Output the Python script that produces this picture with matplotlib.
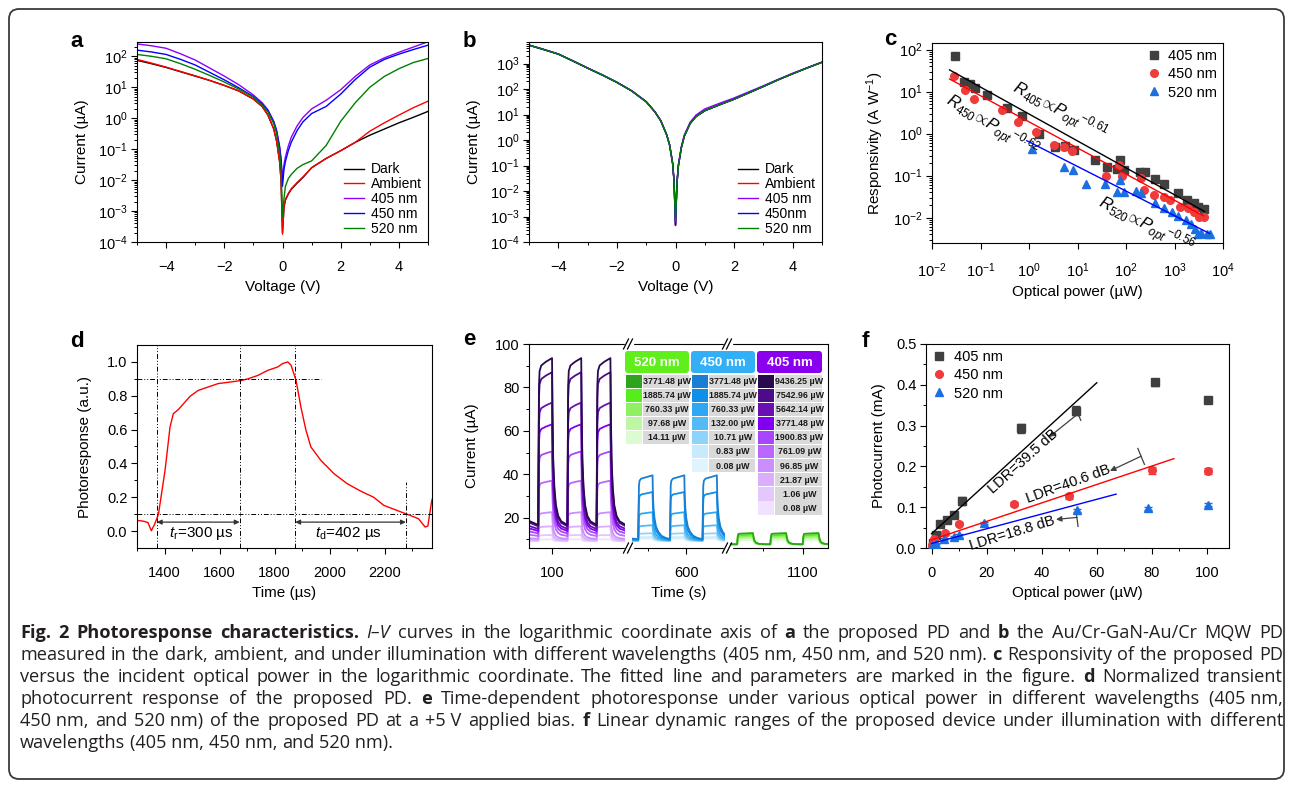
import numpy as np
import matplotlib
matplotlib.use('Agg')
import matplotlib.pyplot as plt
from matplotlib.ticker import MultipleLocator, LogLocator, FormatStrFormatter, NullFormatter, FixedLocator
from matplotlib.patches import FancyBboxPatch, Rectangle
from matplotlib.lines import Line2D

plt.rcParams['font.family'] = ['Liberation Sans', 'DejaVu Sans']
plt.rcParams['mathtext.fontset'] = 'custom'
plt.rcParams['mathtext.rm'] = 'Liberation Sans'
plt.rcParams['mathtext.it'] = 'Liberation Sans:italic'
plt.rcParams['mathtext.bf'] = 'Liberation Sans:bold'
plt.rcParams['axes.linewidth'] = 0.8
plt.rcParams['xtick.major.size'] = 4.5
plt.rcParams['xtick.minor.size'] = 2.5
plt.rcParams['ytick.major.size'] = 4
plt.rcParams['ytick.minor.size'] = 2.5
plt.rcParams['xtick.major.width'] = 0.8
plt.rcParams['ytick.major.width'] = 0.8
plt.rcParams['xtick.minor.width'] = 0.7
plt.rcParams['ytick.minor.width'] = 0.7
plt.rcParams['xtick.major.pad'] = 8.5
plt.rcParams['ytick.major.pad'] = 3
plt.rcParams['xtick.labelsize'] = 10.5
plt.rcParams['ytick.labelsize'] = 10.5
plt.rcParams['axes.labelsize'] = 11

# ---------------- data ----------------
# a, b: I-V curves, log10 of current in uA
volt = [-5, -4.5, -4, -3.5, -3, -2.5, -2, -1.5, -1, -0.7, -0.5, -0.3, -0.2, -0.1, -0.05, 0,
        0.05, 0.1, 0.2, 0.3, 0.5, 0.7, 1, 1.5, 2, 2.5, 3, 3.5, 4, 4.5, 5]
a_dark = [1.87, 1.76, 1.64, 1.5, 1.36, 1.22, 1.06, 0.88, 0.62, 0.38, 0.1, -0.35, -0.75, -1.4, -2.0, -3.7,
          -2.9, -2.65, -2.45, -2.3, -2.1, -1.92, -1.6, -1.3, -1.05, -0.78, -0.55, -0.35, -0.15, 0.03, 0.22]
a_amb = [1.9, 1.78, 1.65, 1.51, 1.37, 1.22, 1.06, 0.88, 0.62, 0.38, 0.1, -0.35, -0.75, -1.4, -2.0, -3.75,
         -2.85, -2.62, -2.43, -2.28, -2.08, -1.9, -1.6, -1.3, -1.05, -0.78, -0.42, -0.15, 0.1, 0.34, 0.55]
a_405 = [2.4, 2.34, 2.26, 2.08, 1.88, 1.62, 1.36, 1.08, 0.75, 0.5, 0.27, -0.1, -0.4, -0.9, -1.3, -2.0,
         -1.5, -1.25, -0.9, -0.62, -0.25, 0.02, 0.3, 0.58, 0.92, 1.35, 1.72, 1.95, 2.13, 2.3, 2.47]
a_450 = [2.2, 2.14, 2.06, 1.9, 1.72, 1.48, 1.24, 0.98, 0.7, 0.46, 0.24, -0.13, -0.43, -0.95, -1.35, -2.2,
         -1.65, -1.4, -1.05, -0.78, -0.4, -0.12, 0.15, 0.38, 0.78, 1.25, 1.65, 1.9, 2.07, 2.22, 2.36]
a_520 = [2.06, 2.0, 1.92, 1.76, 1.58, 1.38, 1.17, 0.94, 0.68, 0.43, 0.2, -0.18, -0.5, -1.1, -1.6, -3.2,
         -2.6, -2.2, -1.95, -1.82, -1.62, -1.5, -1.38, -0.88, -0.1, 0.5, 1.0, 1.35, 1.6, 1.8, 1.93]

b_dark = [3.72, 3.55, 3.37, 3.1, 2.82, 2.55, 2.26, 1.93, 1.5, 1.1, 0.75, 0.2, -0.2, -0.9, -1.6, -3.35,
          -1.7, -1.0, -0.3, 0.15, 0.65, 0.92, 1.15, 1.38, 1.6, 1.85, 2.1, 2.36, 2.6, 2.83, 3.05]
b_amb = [3.72, 3.55, 3.37, 3.1, 2.82, 2.55, 2.26, 1.93, 1.5, 1.1, 0.75, 0.2, -0.2, -0.9, -1.6, -3.35,
         -1.7, -1.0, -0.3, 0.15, 0.65, 0.92, 1.15, 1.38, 1.6, 1.85, 2.1, 2.36, 2.6, 2.83, 3.05]
b_405 = [3.73, 3.56, 3.38, 3.11, 2.83, 2.56, 2.27, 1.94, 1.51, 1.11, 0.76, 0.21, -0.2, -0.9, -1.6, -3.3,
         -1.65, -0.95, -0.25, 0.2, 0.7, 0.98, 1.22, 1.44, 1.65, 1.89, 2.13, 2.38, 2.62, 2.84, 3.06]
b_450 = [3.72, 3.55, 3.37, 3.1, 2.82, 2.55, 2.26, 1.93, 1.5, 1.1, 0.75, 0.2, -0.2, -0.9, -1.6, -3.35,
         -1.7, -1.0, -0.3, 0.15, 0.65, 0.92, 1.15, 1.38, 1.6, 1.85, 2.1, 2.36, 2.6, 2.83, 3.05]
b_520 = [3.72, 3.55, 3.37, 3.1, 2.82, 2.55, 2.26, 1.93, 1.5, 1.1, 0.75, 0.2, -0.2, -0.9, -1.6, -3.2,
         -1.7, -1.0, -0.3, 0.15, 0.65, 0.92, 1.15, 1.38, 1.6, 1.85, 2.1, 2.36, 2.6, 2.83, 3.05]

iv_labels_a = ['Dark', 'Ambient', '405 nm', '450 nm', '520 nm']
iv_labels_b = ['Dark', 'Ambient', '405 nm', '450nm', '520 nm']
iv_colors = ['black', '#ff0000', '#8b00ff', '#0000ff', '#008000']

# c: responsivity (A/W) vs optical power (uW)
c405_p = [0.030, 0.045, 0.06, 0.078, 0.136, 0.35, 0.72, 1.6, 3.5, 5.6, 8.3, 23.5, 40, 64, 75, 89,
          190, 250, 400, 600, 1200, 1800, 2500, 3000, 4000]
c405_r = [69, 17, 15.5, 12, 8.2, 4, 2.7, 1.0, 0.48, 0.5, 0.4, 0.24, 0.16, 0.145, 0.24, 0.14,
          0.12, 0.12, 0.085, 0.065, 0.039, 0.026, 0.022, 0.018, 0.016]
c450_p = [0.028, 0.049, 0.075, 0.28, 0.58, 1.4, 3.3, 5.2, 7.7, 39, 73, 82, 200, 230, 380, 600,
          800, 1300, 1900, 2500, 3200, 4000]
c450_r = [24, 10.7, 6.8, 3.7, 1.9, 1.1, 0.53, 0.48, 0.38, 0.1, 0.18, 0.098, 0.087, 0.045, 0.035, 0.031,
          0.026, 0.018, 0.017, 0.014, 0.0104, 0.0104]
c520_p = [1.15, 5.2, 8, 15, 37, 64, 75, 89, 157, 200, 400, 600, 900, 1200, 1700, 2200, 2700, 3100,
          3600, 4600, 5300]
c520_r = [0.44, 0.16, 0.136, 0.065, 0.063, 0.042, 0.078, 0.041, 0.044, 0.038, 0.023, 0.017, 0.014,
          0.0107, 0.0089, 0.0070, 0.0055, 0.0042, 0.0043, 0.0040, 0.0040]
c405_fit_p, c405_fit_r = [0.023, 4200], [33, 0.014]
c450_fit_p, c450_fit_r = [0.023, 4000], [20, 0.011]
c520_fit_p, c520_fit_r = [0.9, 5300], [0.68, 0.0042]

# d: normalized transient response
d_time = [1302, 1325, 1340, 1352, 1364, 1378, 1402, 1420, 1432, 1450, 1469, 1493, 1523, 1559, 1595,
          1643, 1679, 1703, 1739, 1775, 1811, 1829, 1848, 1860, 1878, 1896, 1914, 1932, 1968, 2016,
          2064, 2112, 2160, 2197, 2245, 2281, 2323, 2347, 2357, 2371, 2380]
d_resp = [0.063, 0.058, 0.05, 0.002, 0.04, 0.10, 0.36, 0.615, 0.694, 0.718, 0.753, 0.797, 0.832, 0.852,
          0.872, 0.882, 0.89, 0.90, 0.92, 0.95, 0.97, 0.99, 1.0, 0.98, 0.89, 0.73, 0.596, 0.497, 0.418,
          0.339, 0.28, 0.237, 0.20, 0.152, 0.122, 0.10, 0.073, 0.024, 0.03, 0.18, 0.22]
d_t10_rise, d_t90_rise, d_t90_fall, d_t10_fall = 1372, 1673, 1875, 2277

# e: time-dependent photoresponse, one pulse profile per wavelength (fraction of step height)
e405_rises = [82, 120, 158]
e405_pulse_t = [0, 0.5, 1.0, 1.8, 4, 10, 18, 18.6, 19.5, 21, 23, 26, 30, 34, 38]
e405_pulse_f = [0.09, 0.5, 0.85, 0.93, 0.96, 0.98, 1.0, 0.7, 0.45, 0.3, 0.2, 0.14, 0.11, 0.1, 0.09]
e405_levels = [93.5, 87, 73, 63, 50.5, 37, 22.5, 16, 12, 10]
e405_floor = 9.0
e450_rises = [538, 579, 621]
e450_pulse_t = [0, 0.5, 1.0, 1.8, 4, 10, 18.5, 19, 19.8, 21, 23, 26, 30, 35, 41]
e450_pulse_f = [0.03, 0.5, 0.85, 0.92, 0.95, 0.97, 1.0, 0.7, 0.5, 0.35, 0.22, 0.14, 0.08, 0.05, 0.03]
e450_levels = [39.5, 31.8, 22.5, 16.5, 12.8, 11.0, 10.2]
e450_floor = 9.2
e520_rises = [1017, 1059, 1100]
e520_pulse_t = [0, 0.8, 1.5, 5, 12, 20, 21, 22, 24, 28, 34, 41]
e520_pulse_f = [0.02, 0.7, 0.92, 0.95, 0.97, 1.0, 0.6, 0.35, 0.15, 0.06, 0.03, 0.02]
e520_levels = [12.9, 12.1, 11.3, 10.5, 9.6]
e520_floor = 7.6

t520_power = ['3771.48', '1885.74', '760.33', '97.68', '14.11']
t450_power = ['3771.48', '1885.74', '760.33', '132.00', '10.71', '0.83', '0.08']
t405_power = ['9436.25', '7542.96', '5642.14', '3771.48', '1900.83', '761.09', '96.85', '21.87', '1.06', '0.08']
c520_shades = ['#2ea31c', '#55ee1a', '#8ef062', '#bdf7a3', '#dcfbd3']
c450_shades = ['#1a7fd4', '#0f8fe8', '#2ea8f2', '#52baf6', '#8fd3fa', '#c7eafd', '#e0f4fe']
c405_shades = ['#2a0a4e', '#4d0b8a', '#6a0fb3', '#8200f2', '#a846ff', '#bb66ff', '#cc8dfd',
               '#dcacfd', '#e4c7fd', '#f0e2fe']

# f: linear dynamic range
f405_p = [0.5, 1.5, 3, 5.5, 8, 11, 32.5, 52.5, 81, 100.5]
f405_i = [0.012, 0.033, 0.058, 0.068, 0.08, 0.115, 0.293, 0.337, 0.406, 0.363]
f405_err = [0.003, 0.004, 0.005, 0.005, 0.006, 0.01, 0.01, 0.01, 0.009, 0.006]
f450_p = [0.2, 1, 4.8, 10, 30, 50, 80, 100.5]
f450_i = [0.008, 0.022, 0.036, 0.06, 0.107, 0.127, 0.19, 0.188]
f450_err = [0.003, 0.003, 0.004, 0.004, 0.005, 0.006, 0.008, 0.007]
f520_p = [0.3, 1.8, 4.5, 8, 10, 19, 53, 78.5, 100.5]
f520_i = [0.005, 0.011, 0.022, 0.027, 0.031, 0.061, 0.092, 0.097, 0.106]
f520_err = [0.002, 0.002, 0.003, 0.003, 0.003, 0.003, 0.004, 0.003, 0.004]
f405_fit_p, f405_fit_i = [0, 60], [0.035, 0.405]
f450_fit_p, f450_fit_i = [0, 88], [0.02, 0.219]
f520_fit_p, f520_fit_i = [0, 67], [0.011, 0.132]

W, H = 1292, 787
fig = plt.figure(figsize=(W / 100, H / 100), dpi=100)


def px_axes(l, t, r, b):
    return fig.add_axes([l / W, 1 - b / H, (r - l) / W, (b - t) / H])


def log_minor(ax):
    ax.yaxis.set_minor_locator(LogLocator(base=10, subs=np.arange(2, 10), numticks=100))
    ax.yaxis.set_minor_formatter(NullFormatter())
    ax.yaxis.set_major_locator(LogLocator(base=10, numticks=100))


# ---------------- a / b ----------------
for ax_box, curves, labels, ylim in [((137, 42, 428, 242), [a_dark, a_amb, a_405, a_450, a_520], iv_labels_a, (1e-4, 290)),
                                     ((529, 42, 822, 242), [b_dark, b_amb, b_405, b_450, b_520], iv_labels_b, (1e-4, 7000))]:
    ax = px_axes(*ax_box)
    for vals, lab, col in zip(curves, labels, iv_colors):
        ax.plot(volt, 10 ** np.array(vals), color=col, lw=1.0, label=lab)
    ax.set_yscale('log')
    ax.set_xlim(-5, 5)
    ax.set_ylim(*ylim)
    log_minor(ax)
    ax.xaxis.set_major_locator(MultipleLocator(2))
    ax.xaxis.set_minor_locator(MultipleLocator(1))
    ax.set_xlabel('Voltage (V)')
    ax.set_ylabel('Current (µA)', labelpad=6)
    ax.legend(loc='lower right', frameon=False, fontsize=10, handlelength=1.4, handletextpad=0.5,
              labelspacing=0.06, borderaxespad=0.05)

# ---------------- c ----------------
axc = px_axes(932, 43, 1223, 243)
axc.plot(c405_p, c405_r, 's', color='#404040', ms=5.5, label='405 nm', zorder=3)
axc.plot(c450_p, c450_r, 'o', color='#ee3b3b', ms=5.5, label='450 nm', zorder=3)
axc.plot(c520_p, c520_r, '^', color='#1c6fe0', ms=6, label='520 nm', zorder=3)
axc.plot(c405_fit_p, c405_fit_r, color='black', lw=1.0, zorder=4)
axc.plot(c450_fit_p, c450_fit_r, color='#ff0000', lw=1.0, zorder=4)
axc.plot(c520_fit_p, c520_fit_r, color='#0000ff', lw=1.0, zorder=4)
axc.set_xscale('log')
axc.set_yscale('log')
axc.set_xlim(1e-2, 1e4)
axc.set_ylim(2.5e-3, 144)
log_minor(axc)
axc.xaxis.set_major_locator(LogLocator(base=10, numticks=100))
axc.xaxis.set_minor_locator(FixedLocator([]))
axc.set_xlabel('Optical power (µW)')
axc.set_ylabel('Responsivity (A W$^{-1}$)', labelpad=5)
axc.legend(loc='upper right', frameon=False, fontsize=10.5, handlelength=1.0, handletextpad=0.5,
           labelspacing=0.3, borderaxespad=0.0)
axc.text(0.43, 9.8, r'$R_{405}\!\propto\!{P_{opt}}^{-0.61}$', rotation=-28, rotation_mode='anchor',
         ha='left', va='baseline', fontsize=12)
axc.text(0.0177, 5.2, r'$R_{450}\!\propto\!{P_{opt}}^{-0.62}$', rotation=-31, rotation_mode='anchor',
         ha='left', va='baseline', fontsize=12)
axc.text(24.9, 0.018, r'$R_{520}\!\propto\!{P_{opt}}^{-0.56}$', rotation=-27, rotation_mode='anchor',
         ha='left', va='baseline', fontsize=12)

# ---------------- d ----------------
axd = px_axes(137, 345, 432, 548)
axd.plot(d_time, d_resp, color='#ff0000', lw=1.0)
axd.set_xlim(1300, 2372)
axd.set_ylim(-0.1, 1.1)
axd.xaxis.set_major_locator(MultipleLocator(200))
axd.xaxis.set_minor_locator(MultipleLocator(100))
axd.yaxis.set_major_locator(FixedLocator([0, 0.2, 0.4, 0.6, 0.8, 1.0]))
axd.yaxis.set_minor_locator(FixedLocator([0.1, 0.3, 0.5, 0.7, 0.9]))
axd.yaxis.set_major_formatter(FormatStrFormatter('%.1f'))
dd = (0, (5, 2, 1, 2, 1, 2))
for tx in [d_t10_rise, d_t90_rise, d_t90_fall]:
    axd.axvline(tx, color='black', lw=0.7, ls=dd)
axd.plot([d_t10_fall, d_t10_fall], [-0.1, 0.29], color='black', lw=0.7, ls=dd)
axd.plot([1300, 1970], [0.9, 0.9], color='black', lw=0.7, ls=dd)
axd.axhline(0.1, color='black', lw=0.7, ls=dd)
for t0, t1 in [(d_t10_rise, d_t90_rise), (d_t90_fall, d_t10_fall)]:
    axd.annotate('', xy=(t0, 0.053), xytext=(t1, 0.053),
                 arrowprops=dict(arrowstyle='<|-|>', color='#333333', lw=0.9, mutation_scale=7,
                                 shrinkA=0, shrinkB=0))
axd.text(1532, -0.016, r'$t_{\mathrm{r}}$=300 µs', ha='center', va='center', fontsize=11)
axd.text(2070, -0.016, r'$t_{\mathrm{d}}$=402 µs', ha='center', va='center', fontsize=11)
axd.set_xlabel('Time (µs)')
axd.set_ylabel('Photoresponse (a.u.)', labelpad=11)


# ---------------- e ----------------
def pulse_train(rises, pulse_t, pulse_f, t_start, level, floor):
    t = [t_start]
    f = [pulse_f[0] * 1.25]
    for r in rises:
        t += [r + p for p in pulse_t]
        f += list(pulse_f)
    return np.array(t), floor + (level - floor) * np.array(f)


seg_boxes = [(529, 344, 625, 548), (632, 344, 725, 548), (730, 344, 828, 548)]
seg_lims = [(70, 195), (530, 650), (1008, 1132)]
seg_major = [100, 600, 1100]
seg_minor = [150, 550, 1050]
seg_data = [(e405_rises, e405_pulse_t, e405_pulse_f, e405_levels, e405_floor, c405_shades),
            (e450_rises, e450_pulse_t, e450_pulse_f, e450_levels, e450_floor, c450_shades),
            (e520_rises, e520_pulse_t, e520_pulse_f, e520_levels, e520_floor, c520_shades)]
segs = []
for k, box in enumerate(seg_boxes):
    ax = px_axes(*box)
    segs.append(ax)
    rises, pt, pf, levels, floor, shades = seg_data[k]
    for lvl, col in list(zip(levels, shades))[::-1]:
        tt, ii = pulse_train(rises, pt, pf, seg_lims[k][0], lvl, floor)
        ax.plot(tt, ii, color=col, lw=1.3)
    ax.set_xlim(*seg_lims[k])
    ax.set_ylim(6, 100)
    ax.set_xticks([seg_major[k]])
    ax.set_xticks([seg_minor[k]], minor=True)
    ax.yaxis.set_major_locator(MultipleLocator(20))
    ax.yaxis.set_minor_locator(MultipleLocator(10))
    if k > 0:
        ax.spines['left'].set_visible(False)
        ax.tick_params(axis='y', which='both', left=False, labelleft=False)
    if k < 2:
        ax.spines['right'].set_visible(False)
segs[0].set_ylabel('Current (µA)', labelpad=11)
segs[1].set_xlabel('Time (s)')

# ---------------- f ----------------
axf = px_axes(926, 344, 1229, 548)
axf.errorbar(f405_p, f405_i, yerr=f405_err, fmt='s', color='#404040', ms=5.5, capsize=3,
             elinewidth=1, capthick=1, zorder=3)
axf.errorbar(f450_p, f450_i, yerr=f450_err, fmt='o', color='#ee3b3b', ms=5.5, capsize=3,
             elinewidth=1, capthick=1, zorder=3)
axf.errorbar(f520_p, f520_i, yerr=f520_err, fmt='^', color='#1c6fe0', ms=6, capsize=3,
             elinewidth=1, capthick=1, zorder=3)
axf.plot(f405_fit_p, f405_fit_i, color='black', lw=1.0, zorder=4)
axf.plot(f450_fit_p, f450_fit_i, color='#ff0000', lw=1.0, zorder=4)
axf.plot(f520_fit_p, f520_fit_i, color='#0000ff', lw=1.0, zorder=4)
axf.set_xlim(-2, 108)
axf.set_ylim(0, 0.5)
axf.xaxis.set_major_locator(MultipleLocator(20))
axf.xaxis.set_minor_locator(MultipleLocator(10))
axf.yaxis.set_major_locator(MultipleLocator(0.1))
axf.yaxis.set_minor_locator(MultipleLocator(0.05))
axf.yaxis.set_major_formatter(FormatStrFormatter('%.1f'))
axf.set_xlabel('Optical power (µW)')
axf.set_ylabel('Photocurrent (mA)', labelpad=7)
f_handles = [Line2D([], [], ls='none', marker='s', color='#404040', ms=5.5),
             Line2D([], [], ls='none', marker='o', color='#ee3b3b', ms=5.5),
             Line2D([], [], ls='none', marker='^', color='#1c6fe0', ms=6)]
axf.legend(f_handles, ['405 nm', '450 nm', '520 nm'], loc='upper left', frameon=False, fontsize=10.5,
           handlelength=1.0, handletextpad=0.5, labelspacing=0.3, borderaxespad=0.0)
for tick, tail, head in [([(52.1, 0.345), (54.2, 0.313)], (53.2, 0.329), (42.7, 0.272)),
                         ([(74.9, 0.244), (77.3, 0.205)], (76.1, 0.225), (64.8, 0.189)),
                         ([(52.5, 0.088), (53.2, 0.053)], (52.8, 0.075), (45.2, 0.07))]:
    axf.plot([tick[0][0], tick[1][0]], [tick[0][1], tick[1][1]], color='#404040', lw=0.9)
    axf.annotate('', xy=head, xytext=tail,
                 arrowprops=dict(arrowstyle='-|>', color='#404040', lw=0.9, mutation_scale=8,
                                 shrinkA=0, shrinkB=0))
axf.text(33.3, 0.211, 'LDR=39.5 dB', rotation=42, rotation_mode='anchor', ha='center', va='center', fontsize=10.5)
axf.text(49.7, 0.156, 'LDR=40.6 dB', rotation=20, rotation_mode='anchor', ha='center', va='center', fontsize=10.5)
axf.text(29.1, 0.037, 'LDR=18.8 dB', rotation=17, rotation_mode='anchor', ha='center', va='center', fontsize=10.5)

# ---------------- overlay: frame, letters, table, breaks, caption ----------------
ov = fig.add_axes([0, 0, 1, 1])
ov.set_xlim(0, W)
ov.set_ylim(H, 0)
ov.axis('off')
ov.set_zorder(20)

ov.add_patch(FancyBboxPatch((9, 9), 1275, 770, boxstyle='round,pad=0,rounding_size=10',
                            fill=False, ec='#3a3a3a', lw=1.3))
for letter, (lx, ly) in zip('abcdef', [(70, 47), (463, 47), (884, 45), (70, 347), (463, 345), (862, 347)]):
    ov.text(lx, ly, letter, fontsize=16, fontweight='bold', ha='left', va='baseline')

# break marks
for xb in [628.5, 727.5]:
    for yb in [344, 548]:
        ov.add_patch(Rectangle((xb - 4, yb - 2), 8, 4, color='white', zorder=1))
        for dx in [-2.5, 1.5]:
            ov.plot([xb + dx - 2.5, xb + dx + 2.5], [yb + 5, yb - 5], color='black', lw=0.9)

# table in e
tab_cols = [(625, 689, 642, '520 nm', '#60ef1c', t520_power, c520_shades),
            (691, 755, 708, '450 nm', '#33b0f5', t450_power, c450_shades),
            (757, 822, 774, '405 nm', '#8a00ee', t405_power, c405_shades)]
for x0, x1, xs, title, hcol, powers, shades in tab_cols:
    ov.add_patch(FancyBboxPatch((x0, 351), x1 - x0, 22, boxstyle='round,pad=0,rounding_size=3',
                                fc=hcol, ec='none'))
    ov.text((x0 + x1) / 2, 362.5, title, color='white', fontsize=9.5, fontweight='bold',
            ha='center', va='center')
    for i, (pw, sh) in enumerate(zip(powers, shades)):
        top = 374.5 + 14.1 * i
        ov.add_patch(Rectangle((x0 + 1, top), xs - x0 - 1, 13.2, fc=sh, ec='none'))
        ov.add_patch(Rectangle((xs + 1, top), x1 - xs - 1, 13.2, fc='#d9d9d9', ec='none'))
        ov.text((xs + 1 + x1) / 2 + 1, top + 7, pw + ' µW', fontsize=6.4, fontweight='bold',
                color='#1a1a1a', ha='center', va='center')

# caption
B, N, I = 'bold', 'normal', 'italic'
NB = '\u00a0'
cap_lines = [
    [('Fig. 2 Photoresponse characteristics.', B, N), ('I–V', N, I),
     ('curves in the logarithmic coordinate axis of', N, N), ('a', B, N), ('the proposed PD and', N, N),
     ('b', B, N), ('the Au/Cr-GaN-Au/Cr MQW PD', N, N)],
    [('measured in the dark, ambient, and under illumination with different wavelengths (405' + NB + 'nm, 450'
      + NB + 'nm, and 520' + NB + 'nm).', N, N), ('c', B, N), ('Responsivity of the proposed PD', N, N)],
    [('versus the incident optical power in the logarithmic coordinate. The fitted line and parameters are marked in the figure.', N, N),
     ('d', B, N), ('Normalized transient', N, N)],
    [('photocurrent response of the proposed PD.', N, N), ('e', B, N),
     ('Time-dependent photoresponse under various optical power in different wavelengths (405' + NB + 'nm,', N, N)],
    [('450' + NB + 'nm, and 520' + NB + 'nm) of the proposed PD at a +5' + NB + 'V applied bias.', N, N), ('f', B, N),
     ('Linear dynamic ranges of the proposed device under illumination with different', N, N)],
    [('wavelengths (405' + NB + 'nm, 450' + NB + 'nm, and 520' + NB + 'nm).', N, N)],
]
cap_font = ['Open Sans', 'DejaVu Sans']
cap_left, cap_right = 20, 1283
cap_base = [638, 660, 682, 704, 726, 748]
renderer = fig.canvas.get_renderer()


def line_words(segs_):
    out = []
    for txt, wt, st in segs_:
        for w in txt.split(' '):
            if w:
                out.append((w, wt, st))
    return out


def make_words(words, size, y):
    return [ov.text(0, y, w, fontsize=size, fontweight=wt, fontstyle=st, family=cap_font,
                    ha='left', va='baseline', color='#231f20') for w, wt, st in words]


probe = ov.text(0, 0, 'a a', fontsize=11, family=cap_font)
probe2 = ov.text(0, 0, 'aa', fontsize=11, family=cap_font)
space11 = probe.get_window_extent(renderer).width - probe2.get_window_extent(renderer).width
probe.remove()
probe2.remove()
natural = []
for segs_ in cap_lines:
    ws = make_words(line_words(segs_), 11, 0)
    tot = sum(o.get_window_extent(renderer).width for o in ws) + space11 * (len(ws) - 1)
    natural.append(tot)
    for o in ws:
        o.remove()
cap_size = 11 * (cap_right - cap_left - 6) / max(natural)
space_w = space11 * cap_size / 11

for n, (segs_, yb) in enumerate(zip(cap_lines, cap_base)):
    ws = make_words(line_words(segs_), cap_size, yb)
    widths = [o.get_window_extent(renderer).width for o in ws]
    if n < len(cap_lines) - 1:
        gap = (cap_right - cap_left - sum(widths)) / (len(ws) - 1)
    else:
        gap = space_w
    x = cap_left
    for o, wd in zip(ws, widths):
        o.set_x(x)
        x += wd + gap

fig.savefig('out.png', dpi=100)
